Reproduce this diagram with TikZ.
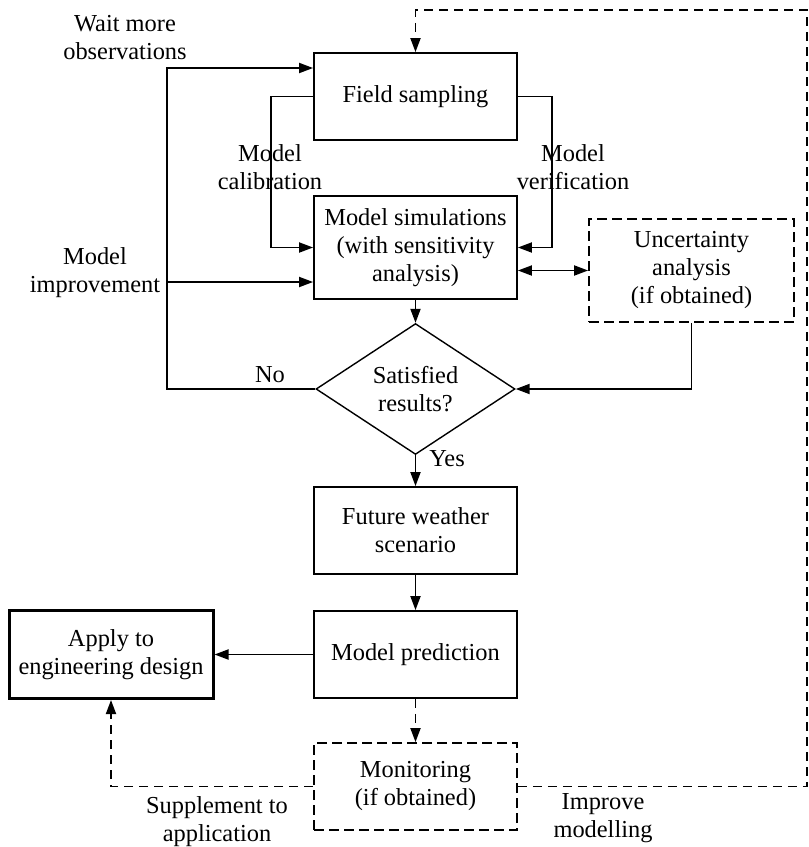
\documentclass[tikz,border=0pt]{standalone}
\usepackage{fontspec}
\setmainfont{Liberation Serif}
\usetikzlibrary{positioning}
\usetikzlibrary{shapes.geometric}
\usetikzlibrary{arrows.meta}

\begin{document}
\begin{tikzpicture}[x=0.5pt, y=-0.5pt,
  font=\fontsize{12.2}{14}\selectfont,
  procbox/.style={draw, line width=0.9pt, minimum width=101.5pt, minimum height=43.5pt, align=center, inner sep=1pt},
  dashbox/.style={procbox, dash pattern=on 5pt off 2.5pt},
  decision/.style={draw, shape=diamond, line width=0.7pt, minimum width=99.5pt, minimum height=59.5pt, inner sep=0pt, align=center},
  lbl/.style={align=center, inner sep=1pt},
  arr/.style={line width=0.9pt, -{Triangle[length=7pt, width=5pt]}},
  darr/.style={arr, dash pattern=on 4.5pt off 3pt}]
\useasboundingbox (0,0) rectangle (809,847);

% boxes
\node[procbox] (field) at (415.5,96.5) {Field sampling};
\node[procbox, minimum height=51.5pt] (sim) at (415.5,247.5) {Model simulations\\(with sensitivity\\analysis)};
\node[dashbox, minimum width=102.5pt, minimum height=51.5pt] (unc) at (691.5,270.5) {Uncertainty\\analysis\\(if obtained)};
\node[decision] (dec) at (415.5,389) {Satisfied\\results?};
\node[procbox] (future) at (415.5,530.5) {Future weather\\scenario};
\node[procbox] (pred) at (415.5,654.5) {Model prediction};
\node[procbox, line width=1.5pt, minimum width=102pt, minimum height=44pt] (apply) at (111,654.5) {Apply to\\engineering design};
\node[dashbox] (mon) at (415.5,786.5) {Monitoring\\(if obtained)};

% bend points
\coordinate (loop) at (167,68);
\coordinate (imp) at (167,282);
\coordinate (calx) at (271,0);
\coordinate (verx) at (552,0);
\coordinate (fb) at (807,10);

% connectors
\draw[arr] (dec.west) -| (loop) -- (field.west |- loop);
\draw[arr] (imp) -- (sim.west |- imp);
\draw[arr] (field.west) -| (calx |- sim.west) -- (sim.west);
\draw[arr] (field.east) -| (verx |- sim.east) -- (sim.east);
\draw[arr, {Triangle[length=7pt, width=5pt]}-{Triangle[length=7pt, width=5pt]}] (sim.east |- unc.west) -- (unc.west);
\draw[arr] (unc.south) |- (dec.east);
\draw[arr] (sim.south) -- (dec.north);
\draw[arr] (dec.south) -- (future.north);
\draw[arr] (future.south) -- (pred.north);
\draw[arr] (pred.west) -- (apply.east);
\draw[darr] (pred.south) -- (mon.north);
\draw[darr] (mon.east) -| (fb) -| (field.north);
\draw[darr] (mon.west) -| (apply.south);

% labels
\node[lbl] (waitlbl) at (125,38) {Wait more\\observations};
\node[lbl] (callbl) at (270,167) {Model\\calibration};
\node[lbl] (verlbl) at (573,167) {Model\\verification};
\node[lbl] (implbl) at (95,273) {Model\\improvement};
\node[lbl] (nolbl) at (270,375) {No};
\node[lbl] (yeslbl) at (447,459) {Yes};
\node[lbl] (suplbl) at (217,822) {Supplement to\\application};
\node[lbl] (improvelbl) at (603,818) {Improve\\modelling};
\end{tikzpicture}
\end{document}
